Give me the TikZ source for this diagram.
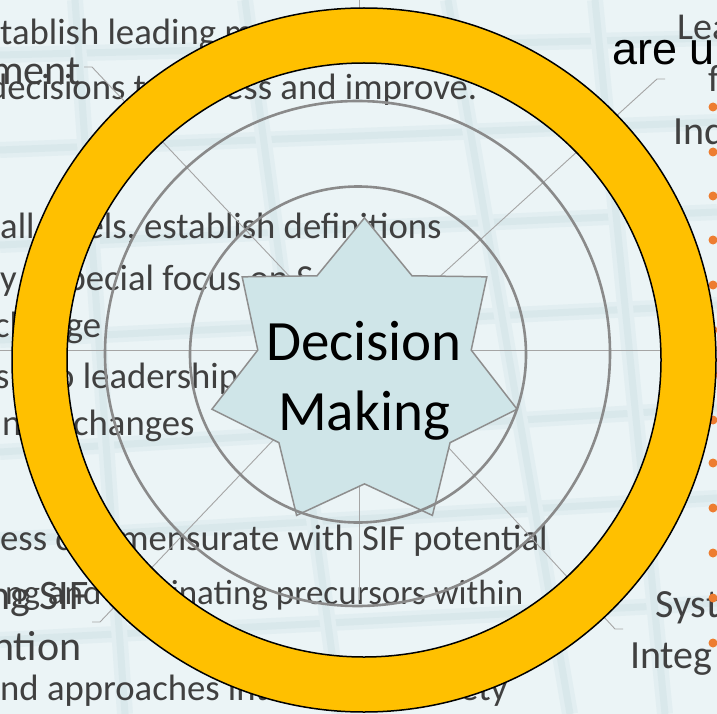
\documentclass[tikz,border=0pt]{standalone}
\usepackage{fontspec}
\setmainfont{Carlito}
\newfontfamily\arialfont{Liberation Sans}
\usetikzlibrary{shapes.geometric}

\definecolor{bg}{HTML}{EBF4F6}
\definecolor{band}{HTML}{D9E8EB}
\definecolor{bandhalo}{HTML}{E2EEF1}
\definecolor{bodytext}{HTML}{404040}
\definecolor{ringgold}{HTML}{FFC000}
\definecolor{circlegray}{HTML}{8A8A8A}
\definecolor{leadergray}{HTML}{A5A5A5}
\definecolor{starfill}{HTML}{CFE5E8}
\definecolor{starline}{HTML}{8E8E8E}
\definecolor{bulletorange}{HTML}{ED7D31}

\tikzset{
  body/.style={anchor=base west, inner sep=0pt, text=bodytext, font=\fontsize{36.7}{44}\selectfont},
  bodysmall/.style={body, font=\fontsize{35}{42}\selectfont},
  head/.style={body, font=\fontsize{42}{50}\selectfont},
  side/.style={body, font=\fontsize{40}{48}\selectfont},
  leader/.style={draw=leadergray, line width=0.9pt},
  orbit/.style={draw=circlegray, line width=2.6pt},
  bullet/.style={circle, fill=bulletorange, inner sep=0pt, minimum size=9pt},
  gridband/.style={draw=bandhalo, line width=16pt, postaction={draw=band, line width=7pt}},
  decisionstar/.style={star, star points=7, star point ratio=1.43, minimum size=313pt,
    inner sep=0pt, outer sep=0pt, fill=starfill, draw=starline, line width=1.5pt},
}

\begin{document}
\begin{tikzpicture}[x=1pt, y=-1pt]
\path[use as bounding box] (0,0) rectangle (717,714);
\clip (0,0) rectangle (717,714);

% backdrop with a faint window grid
\fill[bg] (0,0) rectangle (717,714);
\draw[gridband] (0,55) -- (717,38);
\draw[gridband] (0,150) -- (717,122);
\draw[gridband] (0,245) -- (717,212);
\draw[gridband] (0,340) -- (717,305);
\draw[gridband] (0,452) -- (717,408);
\draw[gridband] (0,540) -- (717,498);
\draw[gridband] (0,640) -- (717,603);
\draw[gridband] (75,0) -- (125,714);
\draw[gridband] (245,0) -- (340,714);
\draw[gridband] (448,0) -- (570,714);
\draw[gridband] (595,0) -- (665,714);

% slide text left of and inside the ring
\node[body] (l1)  at (0,45)    {tablish leading m};
\node[head] (h1)  at (-10,85)  {ment};
\node[body] (l2a) at (-12,100) {decisions t};
\node[body] (l2b) at (225,100) {ess and improve.};
\node[body] (l3)  at (0,238)   {all levels, establish definitions};
\node[body] (l4a) at (0,290)   {y};
\node[body] (l4b) at (52,290)  {special focus on S};
\node[body] (l5)  at (-6,337)  {change};
\node[body] (l6a) at (-5,388)  {s};
\node[body] (l6b) at (55,388)  {o leadership};
\node[body] (l7a) at (2,435)   {n};
\node[body] (l7b) at (73,435)  {changes};
\node[body] (l8)  at (0,550)   {ess commensurate with SIF potential};
\node[bodysmall] (l9) at (5,604) {ng and eliminating precursors within};
\node[head] (h2)  at (-12,609) {ng SIF};
\node[head] (h3)  at (-8,660)  {ntion};
\node[body] (l10a) at (0,700)  {nd approaches int};
\node[body] (l10b) at (460,700) {ety};

% slide text on the right edge
\node[body, font=\fontsize{38}{45}\selectfont] (r1) at (677,40) {Lea};
\node[anchor=base west, inner sep=0pt, font=\arialfont\fontsize{45}{54}\selectfont] (r2) at (612,65) {are u};
\node[body, font=\fontsize{38}{45}\selectfont] (r3) at (708,92) {f};
\node[side] (r4) at (673,145) {Ind};
\node[side] (r5) at (655,617) {Syst};
\node[side] (r6) at (630,668) {Integ};
\foreach \y [count=\i] in {107,152,196,240,285,330,375,420,463,508,553,598,643}
  \node[bullet] (b\i) at (713,\y) {};

% leader lines radiating from the hub
\coordinate (hub) at (359,350);
\coordinate (tl) at (92,67);   \coordinate (tlx) at (84,67);
\coordinate (tr) at (657,79);  \coordinate (trx) at (665,79);
\coordinate (bl) at (100,622); \coordinate (blx) at (92,622);
\coordinate (br) at (615,629); \coordinate (brx) at (623,629);
\coordinate (lt) at (-5,350);
\coordinate (rt) at (725,350);
\coordinate (dn) at (359,600);
\coordinate (upa) at (359,-3); \coordinate (upb) at (359,14);
\draw[leader] (hub) -- (tl) -- (tlx);
\draw[leader] (hub) -- (tr) -- (trx);
\draw[leader] (hub) -- (bl) -- (blx);
\draw[leader] (hub) -- (br) -- (brx);
\draw[leader] (hub) -- (lt);
\draw[leader] (hub) -- (rt);
\draw[leader] (hub) -- (dn);
\draw[leader] (upa) -- (upb);

% central star
\node[decisionstar] (star) at (364.5,374.4) {};

% concentric guide circles
\draw[orbit] (357.5,353.5) circle[radius=252.5];
\draw[orbit] (358,354.5) circle[radius=168];

\node[align=center, inner sep=0pt, font=\fontsize{57}{70}\selectfont] (dm) at (364,381) {Decision\\Making};

% gold ring
\coordinate (rc) at (364,360);
\fill[ringgold, even odd rule] (rc) circle[radius=352] (rc) circle[radius=297];
\draw[black, line width=1.5pt] (rc) circle[radius=352] (rc) circle[radius=297];
\end{tikzpicture}
\end{document}
